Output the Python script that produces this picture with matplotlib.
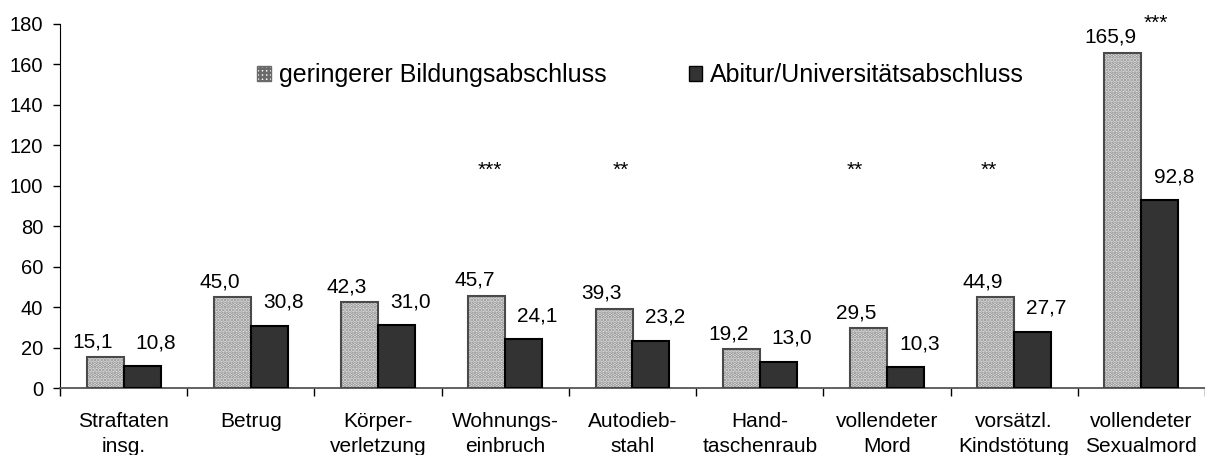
import numpy as np
import matplotlib.pyplot as plt
from matplotlib.patches import Patch

plt.rcParams['font.family'] = ['Liberation Sans', 'DejaVu Sans']
plt.rcParams['hatch.linewidth'] = 1.8

categories = ['Straftaten\ninsg.', 'Betrug', 'Körper-\nverletzung', 'Wohnungs-\neinbruch',
              'Autodieb-\nstahl', 'Hand-\ntaschenraub', 'vollendeter\nMord',
              'vorsätzl.\nKindstötung', 'vollendeter\nSexualmord']
low_edu = [15.1, 45.0, 42.3, 45.7, 39.3, 19.2, 29.5, 44.9, 165.9]
high_edu = [10.8, 30.8, 31.0, 24.1, 23.2, 13.0, 10.3, 27.7, 92.8]
signif = ['', '', '', '***', '**', '', '**', '**', '***']
series_names = ['geringerer Bildungsabschluss', 'Abitur/Universitätsabschluss']

# layout for star markers (x offset from category centre, y in data units)
star_dx = [0, 0, 0, -0.12, -0.09, 0, -0.25, -0.2, 0.11]
star_y = [105, 105, 105, 105, 105, 105, 105, 105, 177.5]

fig = plt.figure(figsize=(12.05, 4.55), dpi=100)
ax = fig.add_axes([60 / 1205, 67 / 455, 1145 / 1205, 364 / 455])

x = np.arange(len(categories))
w = 0.29

ax.bar(x - w / 2, low_edu, w, color='#eeeeee', edgecolor='#858585', hatch='.....',
       linewidth=0, zorder=2)
ax.bar(x - w / 2, low_edu, w, facecolor='none', edgecolor='#4a4a4a', linewidth=1.5, zorder=3)
ax.bar(x + w / 2, high_edu, w, color='#333333', edgecolor='black', linewidth=1.5, zorder=3)

for i in range(len(categories)):
    ax.annotate(f'{low_edu[i]:.1f}'.replace('.', ','), (x[i] - w / 2, low_edu[i]),
                xytext=(-9, 11), textcoords='offset points', ha='center', va='center',
                fontsize=15, annotation_clip=False)
    ax.annotate(f'{high_edu[i]:.1f}'.replace('.', ','), (x[i] + w / 2, high_edu[i]),
                xytext=(10, 17), textcoords='offset points', ha='center', va='center',
                fontsize=15, annotation_clip=False)
    if signif[i]:
        ax.text(x[i] + star_dx[i], star_y[i], signif[i], ha='center', va='baseline',
                fontsize=15, clip_on=False)

ax.set_xlim(-0.5, len(categories) - 0.5)
ax.set_ylim(0, 180)
ax.set_yticks(np.arange(0, 181, 20))
ax.tick_params(axis='y', labelsize=14.5, length=5, width=1, pad=7, direction='out')
ax.set_xticks(x)
ax.set_xticklabels(categories, fontsize=15, linespacing=1.45)
ax.set_xticks(np.arange(-0.5, len(categories), 1), minor=True)
ax.tick_params(axis='x', which='major', length=0, pad=17)
ax.tick_params(axis='x', which='minor', length=6, width=1, direction='out')

for s in ['top', 'right']:
    ax.spines[s].set_visible(False)
ax.spines['left'].set_color('black')
ax.spines['bottom'].set_color('#555555')
ax.spines['bottom'].set_linewidth(1.3)

handles = [Patch(facecolor='#f2f2f2', edgecolor='#6a6a6a', hatch='++++', linewidth=1),
           Patch(facecolor='#333333', edgecolor='black', linewidth=1)]
ax.legend(handles, series_names, loc='center', bbox_to_anchor=(0.507, 0.86), ncol=2,
          frameon=False, fontsize=18, handlelength=0.55, handleheight=0.55,
          handletextpad=0.3, columnspacing=3.3)

fig.savefig('out.png', dpi=100)
